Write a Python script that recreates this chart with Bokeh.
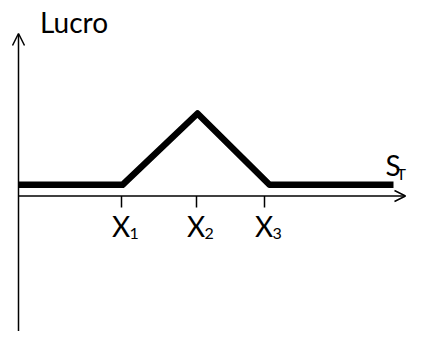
from bokeh.plotting import figure
from bokeh.models import Range1d, Arrow, OpenHead, ColumnDataSource
from bokeh.core.properties import value
from bokeh.embed import file_html
from bokeh.resources import INLINE

# Payoff profile (schematic): S_T on x, profit on y
st_points = [0.0, 10.4, 17.9, 25.1, 37.5]
profit_points = [1.12, 1.12, 8.25, 1.12, 1.12]

# Strike ticks
tick_x = [10.3, 17.8, 24.6]
tick_base = ["X", "X", "X"]
tick_sub = ["1", "2", "3"]

y_axis_top = 16.25
x_axis_end = 38.7
y_axis_bottom = -16.0

FIX = -11  # baseline correction for text rendering

p = figure(width=407, height=331, output_backend="svg", toolbar_location=None,
           x_range=Range1d(-1.8, 38.9), y_range=Range1d(-13.55, 19.55),
           x_axis_type=None, y_axis_type=None, min_border=0)
p.outline_line_color = None
p.grid.visible = False
p.background_fill_color = "white"
p.border_fill_color = "white"

# axes with open arrowheads
p.add_layout(Arrow(end=OpenHead(size=12, line_width=1.5, line_color="black"),
                   x_start=0, y_start=y_axis_bottom, x_end=0, y_end=y_axis_top,
                   line_width=1.5, line_color="black"))
p.add_layout(Arrow(end=OpenHead(size=11, line_width=1.5, line_color="black"),
                   x_start=0, y_start=0, x_end=x_axis_end, y_end=0,
                   line_width=1.5, line_color="black"))

# tick marks
tsrc = ColumnDataSource(dict(x=tick_x, y0=[0]*3, y1=[-1.15]*3, base=tick_base, sub=tick_sub))
p.segment(x0="x", y0="y0", x1="x", y1="y1", source=tsrc, line_color="black", line_width=1.5)
p.text(x="x", y="y0", text="base", source=tsrc, x_offset=-0.5, y_offset=41 + FIX,
       text_font=value("Lato"), text_font_size="28px", text_align="center",
       text_baseline="alphabetic", text_color="black")
p.text(x="x", y="y0", text="sub", source=tsrc, x_offset=8, y_offset=48.5 + FIX,
       text_font=value("Lato"), text_font_size="16px", text_align="left",
       text_baseline="alphabetic", text_color="black")

# payoff line
p.line(st_points, profit_points, line_color="black", line_width=6.5, line_join="round")

# axis titles
p.text(x=[0], y=[y_axis_top], text=["Lucro"], x_offset=21.5, y_offset=-0.8 + FIX,
       text_font=value("Lato"), text_font_size="28px", text_align="left",
       text_baseline="alphabetic", text_color="black")
p.text(x=[x_axis_end], y=[0], text=["S"], x_offset=-20, y_offset=-20 + FIX,
       text_font=value("Lato"), text_font_size="28px", text_align="left",
       text_baseline="alphabetic", text_color="black")
p.text(x=[x_axis_end], y=[0], text=["T"], x_offset=-9, y_offset=-12 + FIX,
       text_font=value("Lato"), text_font_size="16px", text_align="left",
       text_baseline="alphabetic", text_color="black")

open("out.html", "w").write(file_html(p, INLINE))
